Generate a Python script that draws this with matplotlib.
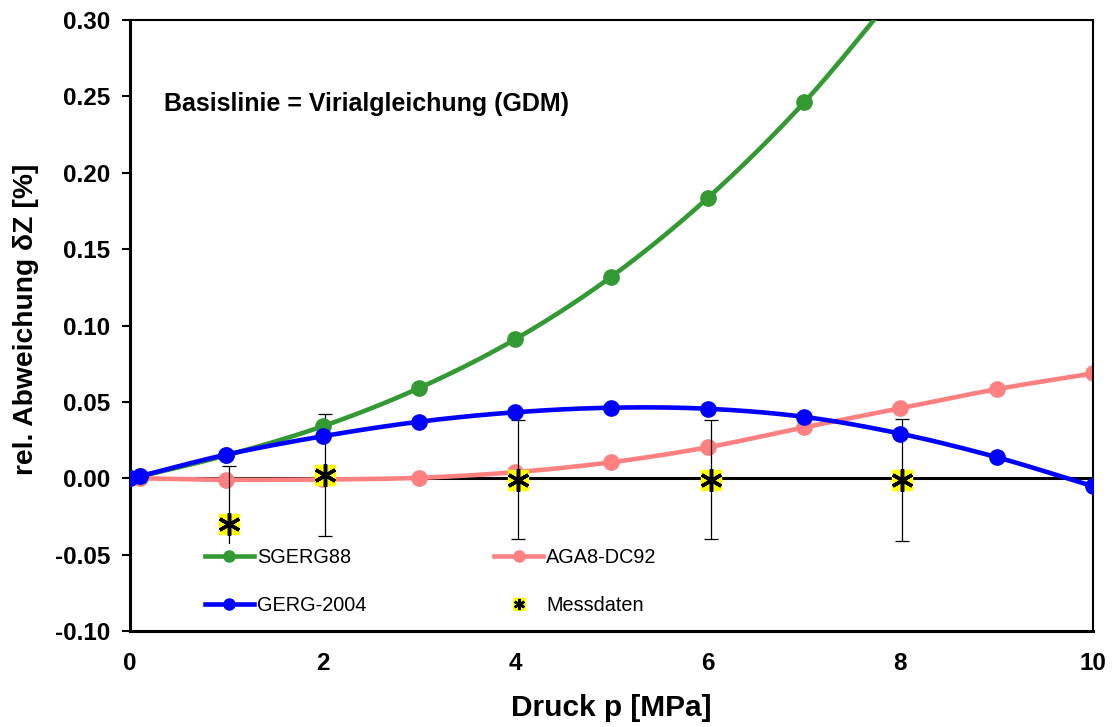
import matplotlib
matplotlib.use("Agg")
import matplotlib.pyplot as plt
import numpy as np

plt.rcParams['font.family'] = ['Liberation Sans', 'DejaVu Sans']

# data
p_sgerg = [0, 0.1, 1, 2, 3, 4, 5, 6, 7, 8]
dz_sgerg = [0, 0.0012, 0.0150, 0.0340, 0.0590, 0.0910, 0.1320, 0.1835, 0.2460, 0.3210]

p_gerg = [0, 0.1, 1, 2, 3, 4, 5, 6, 7, 8, 9, 10]
dz_gerg = [0, 0.0013, 0.0155, 0.0275, 0.0370, 0.0432, 0.0462, 0.0455, 0.0402, 0.0292, 0.0138, -0.0052]

p_aga = [0, 0.1, 1, 2, 3, 4, 5, 6, 7, 8, 9, 10]
dz_aga = [0, 0, -0.0010, -0.0008, 0.0003, 0.0040, 0.0105, 0.0203, 0.0333, 0.0458, 0.0583, 0.0687]

p_mess = [1.03, 2.02, 4.03, 6.03, 8.02]
dz_mess = [-0.030, 0.002, -0.001, -0.001, -0.001]
err_mess = [0.038, 0.040, 0.039, 0.039, 0.040]

x_ticks = [0, 2, 4, 6, 8, 10]
y_ticks = [-0.10, -0.05, 0.00, 0.05, 0.10, 0.15, 0.20, 0.25, 0.30]


def smooth(x, y, n=30):
    # Catmull-Rom path through the points, like the smoothed Excel line
    x = np.asarray(x, float)
    y = np.asarray(y, float)
    px = np.concatenate([[2 * x[0] - x[1]], x, [2 * x[-1] - x[-2]]])
    py = np.concatenate([[2 * y[0] - y[1]], y, [2 * y[-1] - y[-2]]])
    xs, ys = [], []
    t = np.linspace(0, 1, n)
    for i in range(1, len(px) - 2):
        for arr, out in ((px, xs), (py, ys)):
            p0, p1, p2, p3 = arr[i - 1], arr[i], arr[i + 1], arr[i + 2]
            out.extend(0.5 * ((2 * p1) + (-p0 + p2) * t
                              + (2 * p0 - 5 * p1 + 4 * p2 - p3) * t ** 2
                              + (-p0 + 3 * p1 - 3 * p2 + p3) * t ** 3))
    return np.array(xs), np.array(ys)


green = '#339933'
blue = '#0000ff'
pink = '#ff8080'

fig = plt.figure(figsize=(11.13, 7.27), dpi=100)
ax = fig.add_axes([0.1168, 0.132, 0.8652, 0.8405])

ax.axhline(0, color='black', lw=2.2, zorder=1)

xs, ys = smooth(p_aga, dz_aga)
ax.plot(xs, ys, color=pink, lw=3.3, zorder=2)
ax.plot(p_aga, dz_aga, 'o', color=pink, ms=11, zorder=2)

ax.errorbar(p_mess, dz_mess, yerr=err_mess, fmt='none', ecolor='black',
            elinewidth=0.9, capsize=5, capthick=0.9, zorder=3)

xs, ys = smooth(p_sgerg, dz_sgerg)
ax.plot(xs, ys, color=green, lw=3.3, zorder=4)
ax.plot(p_sgerg, dz_sgerg, 'o', color=green, ms=11, zorder=4)

xs, ys = smooth(p_gerg, dz_gerg)
ax.plot(xs, ys, color=blue, lw=3.3, zorder=5)
ax.plot(p_gerg, dz_gerg, 'o', color=blue, ms=11, zorder=5)

ax.plot(p_mess, dz_mess, 's', color='#ffff00', ms=15, mec='#ffff00', zorder=6)
ax.plot(p_mess, dz_mess, marker=(6, 2, 0), color='black', ms=16, mew=2.5,
        ls='none', zorder=7)

ax.set_xlim(0, 10)
ax.set_ylim(-0.10, 0.30)
ax.set_xticks(x_ticks)
ax.set_yticks(y_ticks)
ax.set_xticklabels([str(v) for v in x_ticks], fontsize=17.5, fontweight='bold')
ax.set_yticklabels(['%.2f' % v for v in y_ticks], fontsize=17.5, fontweight='bold')
ax.tick_params(axis='x', length=0, pad=15)
ax.tick_params(axis='y', direction='out', length=6, width=1.5, pad=8)
for s in ax.spines.values():
    s.set_linewidth(1.5)
ax.spines['left'].set_linewidth(2.2)
ax.spines['bottom'].set_linewidth(2.2)

ax.set_xlabel('Druck p [MPa]', fontsize=21.5, fontweight='bold', labelpad=14)
ax.set_ylabel('rel. Abweichung δZ [%]', fontsize=20.3, fontweight='bold', labelpad=12)
ax.yaxis.label.set_y(0.51)

ax.text(0.35, 0.245, 'Basislinie = Virialgleichung (GDM)', fontsize=18,
        fontweight='bold', va='center')

# legend
h_sg, = ax.plot([], [], '-o', color=green, lw=3.3, ms=8)
h_ge, = ax.plot([], [], '-o', color=blue, lw=3.3, ms=8)
h_ag, = ax.plot([], [], '-o', color=pink, lw=3.3, ms=8)
h_m1, = ax.plot([], [], 's', color='#ffff00', ms=8)
h_m2, = ax.plot([], [], marker=(6, 2, 0), color='black', ms=8, mew=1.8, ls='none')
leg = ax.legend([h_sg, h_ge, h_ag, (h_m1, h_m2)],
                ['SGERG88', 'GERG-2004', 'AGA8-DC92', 'Messdaten'],
                ncol=2, loc='upper left', bbox_to_anchor=(0.063, 0.158),
                fontsize=14.3, frameon=True, framealpha=1, edgecolor='none',
                handlelength=2.5, handletextpad=0.15, columnspacing=6.4,
                labelspacing=1.45, borderpad=0.2, fancybox=False)
leg.set_zorder(8)

fig.savefig('out.png', dpi=100)
